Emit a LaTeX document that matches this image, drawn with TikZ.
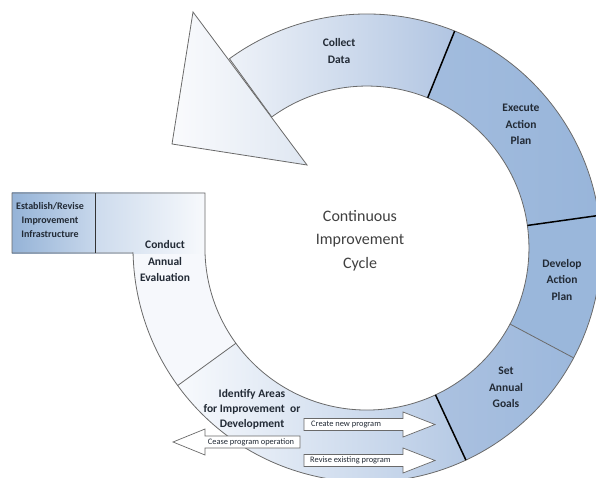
\documentclass[tikz,border=0pt]{standalone}
\usepackage{fontspec}
\setmainfont{Carlito}
\definecolor{edge}{HTML}{6A6A6A}
\definecolor{txt}{HTML}{222A35}
\definecolor{ctxt}{HTML}{404040}
\definecolor{bmain}{HTML}{9AB7DB}
\definecolor{cAl}{HTML}{EEF2F8}
\definecolor{cAr}{HTML}{B1C5E2}
\definecolor{cBl}{HTML}{A2BCDE}
\definecolor{cBr}{HTML}{98B5DA}
\definecolor{cDl}{HTML}{ABC1E0}
\definecolor{cDr}{HTML}{9CB8DC}
\definecolor{cEl}{HTML}{F8FAFD}
\definecolor{cEr}{HTML}{B5C9E4}
\definecolor{cF}{HTML}{F6F8FC}
\definecolor{rAl}{HTML}{95B3D7}
\definecolor{rAr}{HTML}{C7D7EB}
\definecolor{rBl}{HTML}{CDDBED}
\definecolor{rBr}{HTML}{F7F9FC}
\definecolor{tl}{HTML}{FAFBFD}
\definecolor{tr}{HTML}{DFE7F2}
\newcommand\ringseg[2]{(#1:234) arc[start angle=#1,end angle=#2,radius=234] -- (#2:162) arc[start angle=#2,end angle=#1,radius=162] -- cycle}
\begin{document}
\begin{tikzpicture}[x=1pt,y=1pt,
  outline/.style={draw=edge, line width=0.8pt},
  thickdiv/.style={draw=black, line width=1.5pt},
  thindiv/.style={draw=edge, line width=0.8pt},
  lab/.style={text=txt, font=\fontsize{11.5}{16.5}\selectfont\bfseries, align=center, inner sep=0pt},
  smalllab/.style={text=txt, font=\fontsize{10}{14}\selectfont\bfseries, align=center, inner sep=0pt},
  ctrlab/.style={text=ctxt, font=\fontsize{16}{23.5}\selectfont, align=center, inner sep=0pt},
  blockarrow/.style={draw=edge, fill=white, line width=0.7pt},
  arrowtext/.style={text=txt, font=\fontsize{8.4}{10}\selectfont, inner sep=0pt}]
\useasboundingbox (0,0) rectangle (596,477);
\clip (0,0) rectangle (596,477);

% ring segments
\begin{scope}[shift={(367,229)}]
  \shade[left color=cAl, right color=cAr] \ringseg{126}{68};
  \shade[left color=cBl, right color=cBr] \ringseg{68}{8};
  \fill[bmain] \ringseg{8}{-28};
  \shade[left color=cDl, right color=cDr] \ringseg{-28}{-65};
  \shade[left color=cEl, right color=cEr] \ringseg{-65}{-144};
  \fill[cF] \ringseg{-144}{-180};
\end{scope}

% rectangle part
\shade[left color=rAl, right color=rAr] (12,224) rectangle (95,284);
\shade[left color=rBl, right color=rBr] (95,224) rectangle (205,284);

% outline
\begin{scope}[shift={(367,229)}]
  \draw[outline] (126:234) arc[start angle=126,end angle=-178.8,radius=234]
     -- (-355,-5) -- (-355,55) -- (-162,55) -- (-162,-4)
     arc[start angle=-178.6,end angle=126,radius=162] -- cycle;
  \draw[thickdiv] (68:162) -- (68:234);
  \draw[thickdiv] (8:162) -- (8:234);
  \draw[thindiv] (-28:162) -- (-28:234);
  \draw[thickdiv] (-65:162) -- (-65:234);
  \draw[thindiv] (-144:162) -- (-144:234);
\end{scope}
\draw[draw=black!80, line width=1pt] (95,224) -- (95,284);

% arrow head
\shadedraw[left color=tl, right color=tr, draw=edge, line width=0.8pt]
  (193,465) -- (172,333) -- (307,312) -- cycle;

% labels
\node[lab] (collect) at (339,426) {Collect\\Data};
\node[lab] (execute) at (521,352.5) {Execute\\Action\\Plan};
\node[lab] (develop) at (562,197) {Develop\\Action\\Plan};
\node[lab] (setgoals) at (506,89.5) {Set\\Annual\\Goals};
\node[lab] (conduct) at (165,215.5) {Conduct\\Annual\\Evaluation};
\node[smalllab] (establish) at (50,257) {Establish/Revise\\Improvement\\Infrastructure};
\node[lab, font=\fontsize{11.5}{15}\selectfont\bfseries] (identify) at (252,68) {Identify Areas\\for Improvement\ \ or\\Development};
\node[ctrlab] (center) at (360,236.5) {Continuous\\Improvement\\Cycle};

% block arrows
\draw[blockarrow] (304,58.5) -- (403,58.5) -- (403,65) -- (435,52.5) -- (403,40) -- (403,46.5) -- (304,46.5) -- cycle;
\draw[blockarrow] (304,22.5) -- (403,22.5) -- (403,29) -- (435,16.5) -- (403,4) -- (403,10.5) -- (304,10.5) -- cycle;
\draw[blockarrow] (300,41) -- (205,41) -- (205,48) -- (173,35) -- (205,22) -- (205,29) -- (300,29) -- cycle;
\node[arrowtext, anchor=west] (create) at (311,52.5) {Create new program};
\node[arrowtext, anchor=west] (revise) at (310,16.5) {Revise existing program};
\node[arrowtext] (cease) at (251,35) {Cease program operation};
\end{tikzpicture}
\end{document}
